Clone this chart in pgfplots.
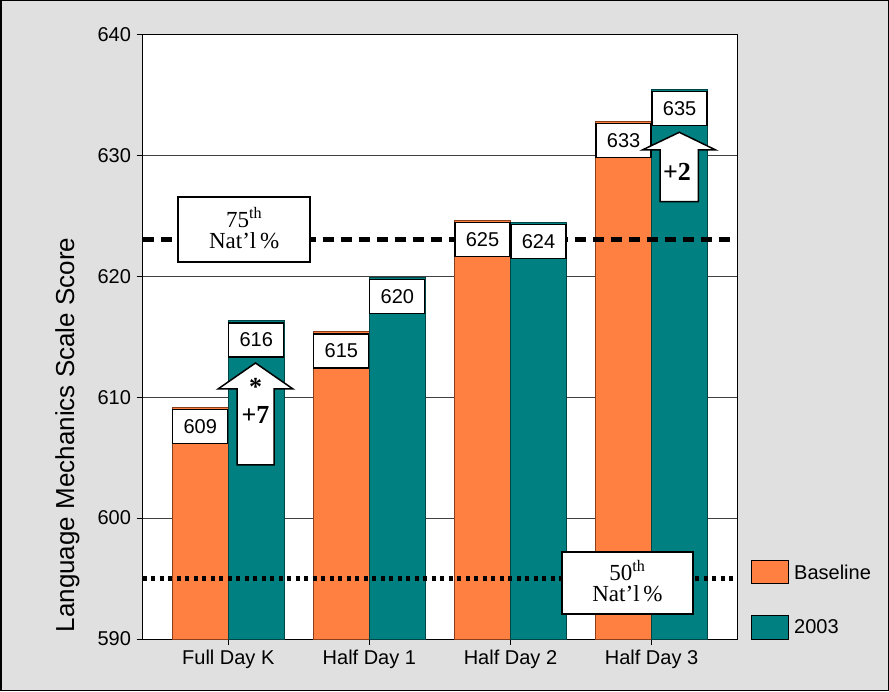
\documentclass[border=0pt]{standalone}
\usepackage{pgfplots}
\pgfplotsset{compat=1.18}
\usepackage{fontspec}
\setmainfont{Liberation Sans}
\newfontfamily\timesf{Liberation Serif}
\definecolor{bgG}{HTML}{E0E0E0}
\definecolor{orC}{HTML}{FF8040}
\definecolor{orD}{HTML}{8A3E1A}
\definecolor{tlC}{HTML}{008080}
\definecolor{tlD}{HTML}{004545}
\newcommand{\px}[1]{\fontsize{#1}{#1}\selectfont}
\begin{document}
\begin{tikzpicture}[x=1pt,y=1pt]
\fill[bgG] (0,0) rectangle (889,691);
\draw[black, line width=1.5pt] (0.75,0.75) rectangle (888.25,690.25);
\begin{axis}[
  at={(142.5pt,52pt)}, anchor=south west,
  width=595pt, height=604.7pt, scale only axis,
  xmin=-0.608, xmax=3.609, ymin=590, ymax=640,
  axis background/.style={fill=white},
  axis line style={black, line width=1pt},
  ytick={590,600,...,640},
  xtick={0,1,2,3},
  xticklabels={Full Day K, Half Day 1, Half Day 2, Half Day 3},
  tick pos=left, tick align=outside,
  major tick length=6pt,
  tick style={black, line width=1pt},
  ymajorgrids, grid style={black!75, line width=0.8pt},
  /pgf/number format/assume math mode=true,
  yticklabel style={font=\px{20}, xshift=-2pt},
  xticklabel style={font=\px{20}, yshift=-1pt},
  point meta=explicit symbolic,
  every node near coord/.style={anchor=north, yshift=-1.5pt, draw=black, fill=white,
     line width=1.2pt, minimum width=55pt, minimum height=34pt, inner sep=0pt, font=\px{20}},
  clip=true,
]
\addplot[ybar, bar width=0.397, bar shift=0pt, fill=orC, draw=orD, line width=1pt,
  nodes near coords]
  coordinates {(-0.1985,609.15) [609] (0.8015,615.4) [615] (1.8015,624.6) [625] (2.8015,632.8) [633]};
\addplot[ybar, bar width=0.397, bar shift=0pt, fill=tlC, draw=tlD, line width=1pt,
  nodes near coords]
  coordinates {(0.1985,616.3) [616] (1.1985,619.9) [620] (2.1985,624.45) [624] (3.1985,635.45) [635]};
\addplot[black, line width=5pt, dash pattern=on 11pt off 7pt, no marks]
  coordinates {(-0.608,623) (3.609,623)};
\addplot[black, line width=4.5pt, dash pattern=on 4pt off 4.5pt, no marks]
  coordinates {(-0.608,595) (3.609,595)};
\end{axis}
% arrows
\draw[black, line width=1.5pt, fill=white, line join=miter]
  (255.5,328) -- (293,302) -- (274,302) -- (274,226) -- (237,226) -- (237,302) -- (218,302) -- cycle;
\node[font=\timesf\bfseries\px{26}] at (255.5,276) {+7};
\node[font=\timesf\bfseries\px{26}] at (255.5,304) {*};
\draw[black, line width=1.5pt, fill=white, line join=miter]
  (679.3,558.7) -- (715.7,541) -- (698.3,541) -- (698.3,489.3) -- (660,489.3) -- (660,541) -- (642.3,541) -- cycle;
\node[font=\timesf\bfseries\px{26}] at (677,519) {+2};
% percentile boxes
\draw[black, line width=2pt, fill=white] (178.3,429.3) rectangle (310,493.7);
\node[font=\timesf\px{23}, align=center, inner sep=0pt] at (244.2,463) {75\textsuperscript{th}\\[-2pt]Nat’l\,\%};
\draw[black, line width=2pt, fill=white] (562.3,77) rectangle (692.7,139);
\node[font=\timesf\px{23}, align=center, inner sep=0pt] at (627.5,110) {50\textsuperscript{th}\\[-2pt]Nat’l\,\%};
% y label
\node[rotate=90, anchor=base, font=\px{26}] at (74,256) {Language Mechanics Scale Score};
% legend
\draw[black, line width=1pt, fill=orC] (751.7,107) rectangle (788.7,130.3);
\node[anchor=west, font=\px{20}, inner sep=0pt] at (794,119) {Baseline};
\draw[black, line width=1pt, fill=tlC] (751.7,51.7) rectangle (788.7,75.3);
\node[anchor=west, font=\px{20}, inner sep=0pt] at (794,64) {2003};
\end{tikzpicture}
\end{document}
